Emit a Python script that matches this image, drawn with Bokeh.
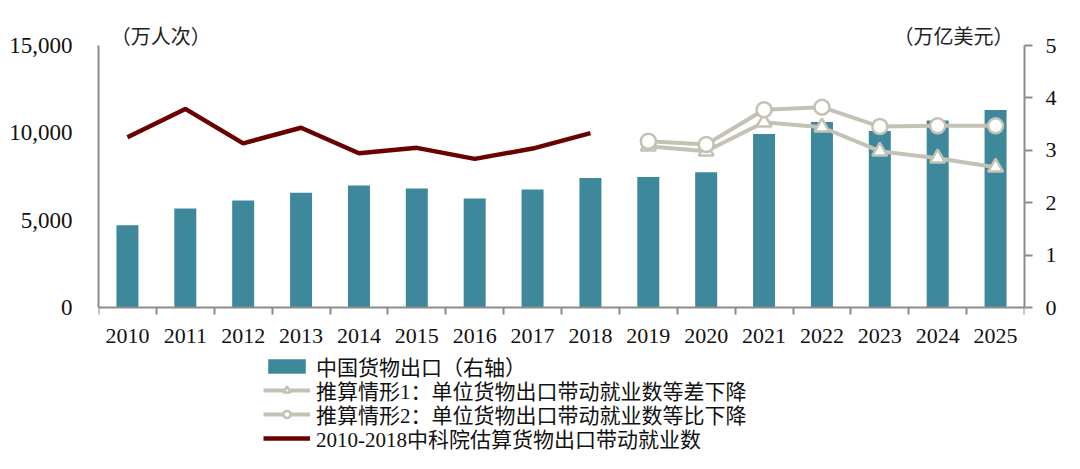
from bokeh.plotting import figure
from bokeh.models import (Range1d, LinearAxis, FixedTicker, NumeralTickFormatter,
                          Legend, LegendItem)
from bokeh.core.properties import value
from bokeh.embed import file_html
from bokeh.resources import INLINE

years = ["2010", "2011", "2012", "2013", "2014", "2015", "2016", "2017",
         "2018", "2019", "2020", "2021", "2022", "2023", "2024", "2025"]
# 中国货物出口 (万亿美元, right axis)
exports = [1.57, 1.89, 2.04, 2.19, 2.33, 2.27, 2.08, 2.25,
           2.47, 2.49, 2.58, 3.31, 3.54, 3.37, 3.57, 3.77]
# 2010-2018 中科院估算 (万人次)
cas_years = ["2010", "2011", "2012", "2013", "2014", "2015", "2016", "2017", "2018"]
cas_jobs = [9750, 11370, 9400, 10290, 8830, 9140, 8510, 9100, 9980]
# 推算情形 (万人次)
proj_years = ["2019", "2020", "2021", "2022", "2023", "2024", "2025"]
scenario1 = [9230, 8950, 10610, 10320, 8950, 8550, 8030]
scenario2 = [9520, 9330, 11320, 11470, 10360, 10400, 10400]

left_ticks = [0, 5000, 10000, 15000]
right_ticks = [0, 1, 2, 3, 4, 5]
unit_texts = ["（万人次）", "（万亿美元）"]
unit_x = [0.21, 15.81]
legend_labels = ["中国货物出口（右轴）",
                 "推算情形1：单位货物出口带动就业数等差下降",
                 "推算情形2：单位货物出口带动就业数等比下降",
                 "2010-2018中科院估算货物出口带动就业数"]

SERIF = "Liberation Serif, Noto Sans CJK SC"
CJK = "Noto Sans CJK SC"
GREY_AX = "#8c8c8c"
TEAL = "#3d889b"
BEIGE = "#c4c2b5"
DARKRED = "#6b0000"

def xpos(labels):
    return [years.index(y) + 0.5 for y in labels]

# layout: the frame fills the whole figure height; the value axis spans
# 262 px (from 45 px below the top to 146 px above the bottom)
H = 453
TOP_PAD, BOT_PAD, AXIS_PX = 45, 146, 262
LMAX, RMAX = 15000, 5
per_px = LMAX / AXIS_PX
y_lo, y_hi = -BOT_PAD * per_px, LMAX + TOP_PAD * per_px
ratio = LMAX / RMAX

p = figure(width=1064, height=H, output_backend="svg", toolbar_location=None,
           x_range=Range1d(0, len(years)), y_range=Range1d(y_lo, y_hi),
           min_border_left=98, min_border_right=40, min_border_top=0,
           min_border_bottom=0)
p.outline_line_color = None
p.xgrid.visible = False
p.ygrid.visible = False
p.extra_y_ranges = {"right": Range1d(y_lo / ratio, y_hi / ratio)}

bars = p.vbar(x=xpos(years), top=exports, width=0.38, bottom=0,
              fill_color=TEAL, line_color=None, y_range_name="right")
cas = p.line(xpos(cas_years), cas_jobs, line_color=DARKRED, line_width=4.5)
s1l = p.line(xpos(proj_years), scenario1, line_color=BEIGE, line_width=4)
s1m = p.scatter(xpos(proj_years), scenario1, marker="triangle", size=15,
                fill_color="white", line_color=BEIGE, line_width=2.5)
s2l = p.line(xpos(proj_years), scenario2, line_color=BEIGE, line_width=4)
s2m = p.scatter(xpos(proj_years), scenario2, marker="circle", size=15,
                fill_color="white", line_color=BEIGE, line_width=2.5)

# unit labels
p.text(x=[unit_x[0]], y=[LMAX], text=[unit_texts[0]], text_align="left",
       text_baseline="middle", y_offset=-10, text_font=value(CJK),
       text_font_size="20px", text_color="#222222")
p.text(x=[unit_x[1]], y=[LMAX], text=[unit_texts[1]], text_align="right",
       text_baseline="middle", y_offset=-10, text_font=value(CJK),
       text_font_size="20px", text_color="#222222")

# x axis, drawn at value 0
xa = p.xaxis[0]
xa.fixed_location = 0
xa.bounds = (0, len(years))
xa.ticker = FixedTicker(ticks=xpos(years), minor_ticks=list(range(len(years) + 1)))
xa.major_label_overrides = {i + 0.5: y for i, y in enumerate(years)}
xa.major_tick_out = 0
xa.major_tick_in = 0
xa.minor_tick_out = 7
xa.minor_tick_in = 0
xa.minor_tick_line_color = GREY_AX
xa.minor_tick_line_width = 2
xa.axis_line_color = GREY_AX
xa.axis_line_width = 2
xa.major_label_standoff = 14
xa.major_label_text_font = SERIF
xa.major_label_text_font_size = "22px"
xa.major_label_text_color = "#111111"

ya = p.yaxis[0]
ya.bounds = (0, LMAX)
ya.ticker = FixedTicker(ticks=left_ticks)
ya.formatter = NumeralTickFormatter(format="0,0")
ya.major_tick_out = 0
ya.major_tick_in = 0
ya.minor_tick_out = 0
ya.minor_tick_in = 0
ya.axis_line_color = GREY_AX
ya.axis_line_width = 2
ya.major_label_standoff = 26
ya.major_label_text_font = SERIF
ya.major_label_text_font_size = "23px"
ya.major_label_text_color = "#111111"

ra = LinearAxis(y_range_name="right", ticker=FixedTicker(ticks=right_ticks),
                bounds=(0, RMAX))
ra.major_tick_out = 8
ra.major_tick_in = 0
ra.minor_tick_out = 0
ra.minor_tick_in = 0
ra.major_tick_line_color = GREY_AX
ra.major_tick_line_width = 2
ra.axis_line_color = GREY_AX
ra.axis_line_width = 2
ra.major_label_standoff = 13
ra.major_label_text_font = SERIF
ra.major_label_text_font_size = "22px"
ra.major_label_text_color = "#111111"
p.add_layout(ra, "right")

# legend: one single-row legend per entry so the row pitch can be tight
legend_renderers = [[bars], [s1l, s1m], [s2l, s2m], [cas]]
legend_offsets = [72, 48, 24, 0]   # px above the bottom of the figure
for lab, rends, off in zip(legend_labels, legend_renderers, legend_offsets):
    lg = Legend(items=[LegendItem(label=lab, renderers=rends)],
                location=(165, off), orientation="vertical")
    lg.border_line_color = None
    lg.background_fill_alpha = 0
    lg.padding = 0
    lg.margin = 0
    lg.spacing = 0
    lg.glyph_width = 47
    lg.glyph_height = 18
    lg.label_height = 18
    lg.label_standoff = 6
    lg.label_text_font = SERIF
    lg.label_text_font_size = "21px"
    lg.label_text_color = "#111111"
    p.add_layout(lg, "center")

open("out.html", "w").write(file_html(p, INLINE))
